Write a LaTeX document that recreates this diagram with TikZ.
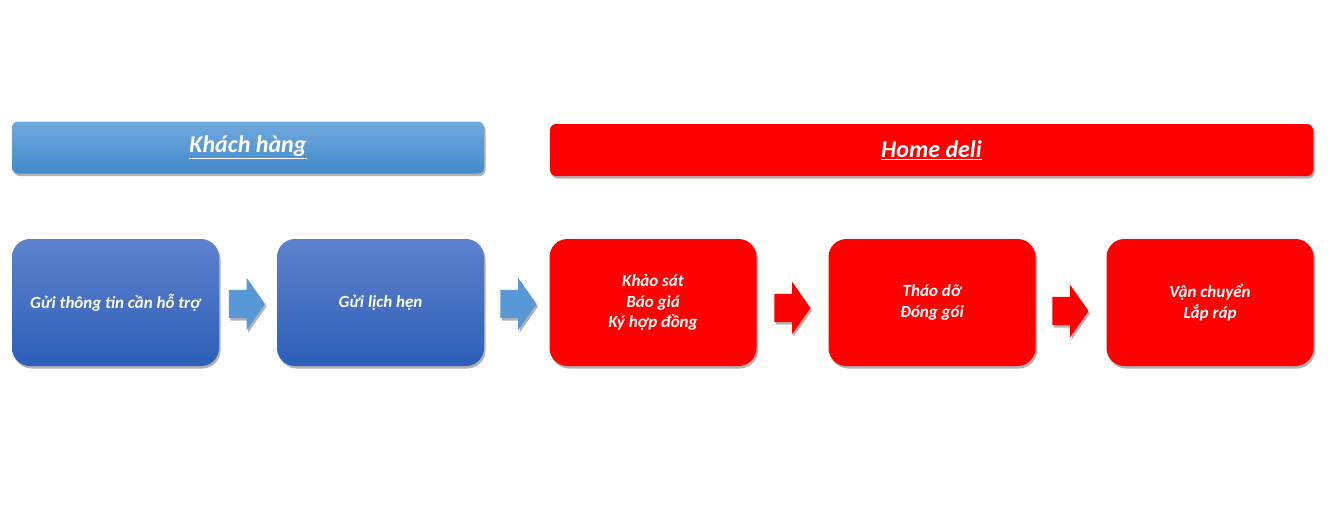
\documentclass[tikz,border=0pt]{standalone}
\usepackage{fontspec}
\setmainfont{Carlito}
\usetikzlibrary{shapes.arrows,shadows,calc}
\definecolor{hdrtop}{RGB}{112,168,221}
\definecolor{hdrbot}{RGB}{66,139,204}
\definecolor{boxtop}{RGB}{94,130,205}
\definecolor{boxbot}{RGB}{45,94,184}
\definecolor{arrblue}{RGB}{88,152,214}
\definecolor{hred}{RGB}{255,0,0}
\tikzset{
  shad/.style={drop shadow={shadow xshift=1.5pt,shadow yshift=-2.5pt,opacity=0.3,fill=black}},
  hdr/.style={shad,rounded corners=6pt,minimum height=52pt,inner sep=0pt,
    text=white,font=\fontsize{24}{28}\selectfont\bfseries\itshape},
  hdrblue/.style={hdr,top color=hdrtop,bottom color=hdrbot},
  hdrred/.style={hdr,fill=hred},
  stepbox/.style={shad,rounded corners=18pt,minimum width=207pt,minimum height=127pt,
    inner sep=0pt,align=center,text=white,font=\fontsize{17}{20.5}\selectfont\bfseries\itshape},
  bluebox/.style={stepbox,top color=boxtop,bottom color=boxbot},
  redbox/.style={stepbox,fill=hred},
  arr/.style={single arrow,single arrow head extend=12pt,single arrow tip angle=110,
    inner xsep=0pt,inner ysep=14pt,minimum height=36pt,minimum width=52pt,draw=none},
  arrb/.style={arr,fill=arrblue,shad},
  arrr/.style={arr,fill=hred,shad},
}
\begin{document}
\begin{tikzpicture}[x=1pt,y=-1pt]
\useasboundingbox[fill=white] (0,0) rectangle (1328,507);
\node[hdrblue,minimum width=472pt] (ha) at (248,147.5) {\underline{Khách hàng}};
\node[hdrred,minimum width=763pt] (hb) at (931.5,150) {\underline{Home deli}};
\node[bluebox] (b1) at (115.5,302.5) {Gửi thông tin cần hỗ trợ};
\node[bluebox] (b2) at (380.5,302.5) {Gửi lịch hẹn};
\node[redbox] (b3) at (653,302.5) {Khảo sát\\Báo giá\\Ký hợp đồng};
\node[redbox] (b4) at (932,302.5) {Tháo dỡ\\Đóng gói};
\node[redbox] (b5) at (1210,302.5) {Vận chuyển\\Lắp ráp};
\node[arrb] (a1) at (242,304) {};
\node[arrb] (a2) at (513.5,304) {};
\node[arrr] (a3) at (787.5,308) {};
\node[arrr] (a4) at (1065.5,311) {};
\end{tikzpicture}
\end{document}
